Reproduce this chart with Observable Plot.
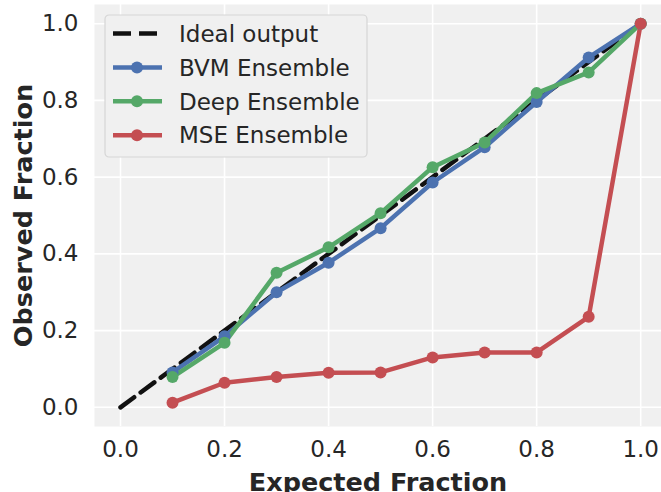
<!DOCTYPE html>
<html><head><meta charset="utf-8">
<script src="https://cdn.jsdelivr.net/npm/d3@7"></script>
<script src="https://cdn.jsdelivr.net/npm/@observablehq/plot@0.6"></script>
<style>body{margin:0;background:#fff}</style>
</head><body><div id="chart"></div>
<script>
const expected = [0.1,0.2,0.3,0.4,0.5,0.6,0.7,0.8,0.9,1.0];
const bvm  = [0.091,0.185,0.300,0.377,0.467,0.586,0.678,0.796,0.912,1.0];
const deep = [0.079,0.168,0.351,0.417,0.506,0.626,0.690,0.819,0.873,1.0];
const mse  = [0.012,0.064,0.079,0.090,0.091,0.130,0.143,0.143,0.236,1.0];
const idealX = [0,1];
const idealY = [0,1];
const seriesNames = ["BVM Ensemble","Deep Ensemble","MSE Ensemble"];
const seriesColors = ["#4C72B0","#55A868","#C44E52"];
const seriesValues = [bvm, deep, mse];
const ticks = [0,0.2,0.4,0.6,0.8,1.0];
const idealLabel = "Ideal output";
const xLabel = "Expected Fraction";
const yLabel = "Observed Fraction";

const rows = seriesValues.flatMap((vals,i)=>vals.map((v,j)=>({x:expected[j], y:v, s:seriesNames[i]})));
const ideal = idealX.map((x,i)=>({x, y: idealY[i]}));
const font = "DejaVu Sans";

const chart = Plot.plot({
  width: 661, height: 492,
  marginLeft: 94, marginRight: 0, marginTop: 4, marginBottom: 66,
  style: {fontFamily: font, background: "#fff", color: "#262626", fontSize: "23px"},
  x: {domain: [-0.05, 1.04]},
  y: {domain: [-0.05, 1.05]},
  color: {domain: seriesNames, range: seriesColors},
  marks: [
    Plot.frame({fill: "#f0f0f0", stroke: null}),
    Plot.gridX(ticks, {stroke: "#fff", strokeOpacity: 1, strokeWidth: 1.6}),
    Plot.gridY(ticks, {stroke: "#fff", strokeOpacity: 1, strokeWidth: 1.6}),
    Plot.axisX(ticks, {tickSize: 0, tickPadding: 14, tickFormat: d3.format(".1f"), fontSize: 23, label: null, fill: "#262626"}),
    Plot.axisY(ticks, {tickSize: 0, tickPadding: 16, tickFormat: d3.format(".1f"), fontSize: 23, label: null, fill: "#262626"}),
    Plot.line(ideal, {x: "x", y: "y", stroke: "#111", strokeWidth: 4.5, strokeDasharray: "17,8"}),
    Plot.line(rows, {x: "x", y: "y", z: "s", stroke: "s", strokeWidth: 4.5}),
    Plot.dot(rows, {x: "x", y: "y", fill: "s", r: 6}),
    Plot.text([xLabel], {frameAnchor: "bottom", dy: 56, lineAnchor: "middle", textAnchor: "middle", fontSize: 25.5, fontWeight: "bold", fill: "#262626"}),
    Plot.text([yLabel], {frameAnchor: "left", dx: -71, lineAnchor: "middle", textAnchor: "middle", rotate: -90, fontSize: 25.5, fontWeight: "bold", fill: "#262626"})
  ]
});
document.getElementById("chart").appendChild(chart);

// legend inside axes (top-left)
const svg = d3.select(chart);
const g = svg.append("g").attr("transform", "translate(105,15)");
g.append("rect").attr("width", 262).attr("height", 142).attr("rx", 4)
  .attr("fill", "#f0f0f0").attr("stroke", "#d6d6d6").attr("stroke-width", 1.2);
const entries = [{name: idealLabel, color: "#111", dash: true}].concat(seriesNames.map((n,i)=>({name:n, color:seriesColors[i]})));
entries.forEach((e,i)=>{
  const y = 18.5 + i*33.9;
  const row = g.append("g").attr("transform", `translate(0,${y})`);
  row.append("line").attr("x1", 8).attr("x2", 57).attr("y1", 0).attr("y2", 0)
    .attr("stroke", e.color).attr("stroke-width", 4.5)
    .attr("stroke-dasharray", e.dash ? "18,8" : null);
  if (!e.dash) row.append("circle").attr("cx", 32).attr("cy", 0).attr("r", 6).attr("fill", e.color);
  row.append("text").attr("x", 74).attr("y", 0).attr("dy", "0.36em")
    .attr("text-anchor", "start")
    .attr("font-family", font).attr("font-size", 23).attr("fill", "#262626").text(e.name);
});
</script></body></html>
